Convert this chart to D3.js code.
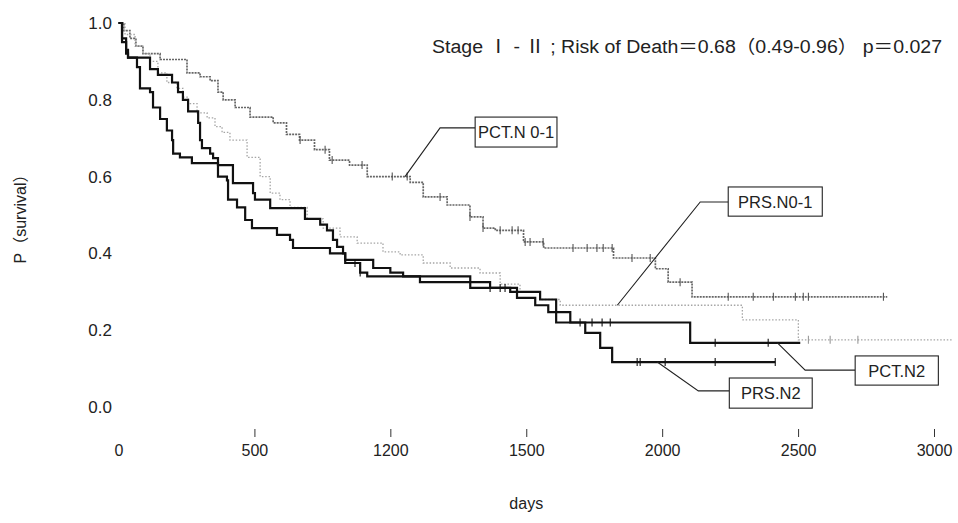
<!DOCTYPE html>
<html>
<head>
<meta charset="utf-8">
<script src="https://cdn.jsdelivr.net/npm/d3@7"></script>
<style>
  html, body { margin: 0; padding: 0; background: #fff; }
  svg { display: block; }
  text { font-family: "Liberation Sans", Arial, "Noto Sans CJK JP", sans-serif; fill: #222; }
</style>
</head>
<body>
<svg id="chart" width="958" height="523"></svg>
<script>
// ---------------- DATA ----------------
const titleText = "Stage  \u2160 - \u2161 ; Risk of Death\uFF1D0.68\uFF080.49-0.96\uFF09 p\uFF1D0.027";
const xTickValues = [0, 500, 1000, 1500, 2000, 2500, 3000];
const xTickLabels = ["0", "500", "1200", "1500", "2000", "2500", "3000"];
const yTickValues = [0, 0.2, 0.4, 0.6, 0.8, 1.0];
const seriesNames = ["PCT.N 0-1", "PRS.N0-1", "PCT.N2", "PRS.N2"];

const pctN01Days = [0, 20, 42, 64, 90, 153, 252, 300, 337, 366, 385, 429, 484, 569, 618, 666, 721, 776, 850, 915, 1073, 1121, 1209, 1293, 1341, 1386, 1490, 1564, 1821, 1975, 2022, 2110, 2828];
const pctN01Surv = [1.0, 0.98, 0.96, 0.94, 0.92, 0.905, 0.87, 0.86, 0.85, 0.82, 0.80, 0.78, 0.755, 0.74, 0.71, 0.695, 0.67, 0.643, 0.63, 0.60, 0.585, 0.547, 0.526, 0.495, 0.466, 0.46, 0.43, 0.414, 0.388, 0.36, 0.325, 0.287, 0.287];
const pctN01Censor = [668, 760, 786, 896, 1007, 1062, 1183, 1293, 1341, 1404, 1448, 1470, 1496, 1514, 1562, 1672, 1724, 1760, 1783, 1816, 1889, 1956, 2066, 2243, 2335, 2409, 2490, 2519, 2538, 2814];

const prsN01Days = [0, 24, 61, 90, 116, 145, 178, 215, 237, 256, 289, 326, 355, 381, 410, 473, 521, 558, 594, 631, 694, 753, 815, 878, 973, 1036, 1121, 1220, 1330, 1404, 1477, 1551, 1625, 2295, 2501, 3067];
const prsN01Surv = [1.0, 0.97, 0.94, 0.92, 0.90, 0.87, 0.845, 0.83, 0.807, 0.79, 0.766, 0.753, 0.73, 0.715, 0.695, 0.65, 0.60, 0.557, 0.54, 0.52, 0.49, 0.466, 0.443, 0.427, 0.404, 0.396, 0.375, 0.362, 0.349, 0.32, 0.30, 0.28, 0.265, 0.227, 0.175, 0.175];
const prsN01Censor = [2538, 2618, 2720];

const pctN2Days = [0, 13, 28, 35, 116, 145, 197, 219, 237, 256, 293, 300, 307, 337, 348, 366, 421, 495, 502, 558, 686, 742, 767, 789, 804, 826, 834, 937, 1000, 1047, 1294, 1466, 1533, 1581, 1662, 2103, 2508];
const pctN2Surv = [1.0, 0.96, 0.93, 0.91, 0.88, 0.865, 0.845, 0.82, 0.80, 0.77, 0.74, 0.695, 0.674, 0.66, 0.648, 0.63, 0.583, 0.557, 0.54, 0.518, 0.49, 0.475, 0.46, 0.435, 0.417, 0.40, 0.383, 0.362, 0.35, 0.34, 0.31, 0.284, 0.265, 0.247, 0.22, 0.167, 0.167];
const pctN2Censor = [1367, 1404, 1422, 1698, 1742, 1779, 1809, 2195, 2390];

const prsN2Days = [0, 13, 28, 35, 68, 79, 116, 127, 153, 178, 197, 201, 226, 270, 366, 399, 403, 436, 466, 491, 583, 631, 642, 778, 834, 889, 915, 1109, 1367, 1441, 1551, 1610, 1717, 1772, 1816, 2416];
const prsN2Surv = [1.0, 0.95, 0.92, 0.91, 0.885, 0.83, 0.82, 0.78, 0.75, 0.72, 0.695, 0.66, 0.65, 0.635, 0.60, 0.59, 0.54, 0.52, 0.487, 0.466, 0.448, 0.435, 0.414, 0.40, 0.375, 0.35, 0.34, 0.325, 0.31, 0.30, 0.28, 0.22, 0.193, 0.154, 0.117, 0.117];
const prsN2Censor = [870, 889, 1908, 1919, 2011, 2195, 2416];

// ---------------- CHART ----------------
const svg = d3.select("#chart");
const x = d3.scaleLinear().domain([0, 3000]).range([118.5, 934]);
const y = d3.scaleLinear().domain([0, 1]).range([407, 23]);

const series = [
  { name: seriesNames[0], days: pctN01Days, surv: pctN01Surv, censor: pctN01Censor, color: "#666", width: 1.7, dash: "2,1", tick: "#555" },
  { name: seriesNames[1], days: prsN01Days, surv: prsN01Surv, censor: prsN01Censor, color: "#a5a5a5", width: 1.3, dash: "1.5,1.8", tick: "#999" },
  { name: seriesNames[2], days: pctN2Days, surv: pctN2Surv, censor: pctN2Censor, color: "#111", width: 2.2, dash: null, tick: "#111" },
  { name: seriesNames[3], days: prsN2Days, surv: prsN2Surv, censor: prsN2Censor, color: "#111", width: 2.2, dash: null, tick: "#111" }
];

function stepValue(s, d) {
  let v = s.surv[0];
  for (let i = 0; i < s.days.length; i++) { if (s.days[i] <= d) v = s.surv[i]; }
  return v;
}

const line = d3.line().x(p => x(p[0])).y(p => y(p[1])).curve(d3.curveStepAfter);

series.forEach(s => {
  const pts = s.days.map((d, i) => [d, s.surv[i]]);
  const path = svg.append("path").attr("d", line(pts))
    .attr("fill", "none").attr("stroke", s.color).attr("stroke-width", s.width);
  if (s.dash) path.attr("stroke-dasharray", s.dash);
  svg.append("g").selectAll("line").data(s.censor).join("line")
    .attr("x1", d => x(d)).attr("x2", d => x(d))
    .attr("y1", d => y(stepValue(s, d)) - 4).attr("y2", d => y(stepValue(s, d)) + 4)
    .attr("stroke", s.tick).attr("stroke-width", 1.1);
});

// X axis
const xAxis = svg.append("g").attr("transform", "translate(0,429)")
  .call(d3.axisBottom(x).tickValues(xTickValues).tickSize(8).tickPadding(8)
    .tickFormat((d, i) => xTickLabels[i]));
xAxis.select(".domain").remove();
xAxis.selectAll(".tick line").attr("stroke", "#333").attr("stroke-width", 1)
  .attr("opacity", d => d === 0 ? 0 : 1);
xAxis.selectAll(".tick text").attr("font-size", 16).attr("fill", "#222")
  .attr("font-family", "Liberation Sans, Arial, sans-serif");

// Y axis
const yAxis = svg.append("g").attr("transform", "translate(112,0)")
  .call(d3.axisLeft(y).tickValues(yTickValues).tickSize(0).tickPadding(0).tickFormat(d3.format(".1f")));
yAxis.select(".domain").remove();
yAxis.selectAll(".tick text").attr("font-size", 17).attr("fill", "#222")
  .attr("font-family", "Liberation Sans, Arial, sans-serif");

// Axis titles
svg.append("text").attr("x", x(1500)).attr("y", 509).attr("text-anchor", "middle")
  .attr("font-size", 16).text("days");
svg.append("text").attr("transform", "translate(26,215) rotate(-90)").attr("text-anchor", "middle")
  .attr("font-size", 16).text("P\uFF08survival\uFF09");

// Title
svg.append("text").attr("x", 432).attr("y", 53)
  .attr("font-size", 18).attr("textLength", 510).attr("lengthAdjust", "spacingAndGlyphs").text(titleText);

// Series labels (positions in data coordinates)
const labels = [
  { text: seriesNames[0], x0: 1312, x1: 1613, yTop: 0.755, yBot: 0.677, yLead: 0.727, xElbow: 1183, sIdx: 0, anchorDay: 1054 },
  { text: seriesNames[1], x0: 2243, x1: 2589, yTop: 0.573, yBot: 0.497, yLead: 0.534, xElbow: 2140, sIdx: 1, anchorDay: 1835 },
  { text: seriesNames[2], x0: 2710, x1: 3016, yTop: 0.133, yBot: 0.057, yLead: 0.096, xElbow: 2526, sIdx: 2, anchorDay: 2424 },
  { text: seriesNames[3], x0: 2247, x1: 2552, yTop: 0.0755, yBot: -0.003, yLead: 0.042, xElbow: 2133, sIdx: 3, anchorDay: 1982 }
];
labels.forEach(l => {
  const ax = x(l.anchorDay), ay = y(stepValue(series[l.sIdx], l.anchorDay));
  svg.append("polyline")
    .attr("points", [[x(l.x0), y(l.yLead)], [x(l.xElbow), y(l.yLead)], [ax, ay]].map(p => p.join(",")).join(" "))
    .attr("fill", "none").attr("stroke", "#222").attr("stroke-width", 1.1);
  svg.append("rect").attr("x", x(l.x0)).attr("y", y(l.yTop))
    .attr("width", x(l.x1) - x(l.x0)).attr("height", y(l.yBot) - y(l.yTop))
    .attr("fill", "#fff").attr("stroke", "#222").attr("stroke-width", 1.1);
  svg.append("text").attr("x", (x(l.x0) + x(l.x1)) / 2).attr("y", (y(l.yTop) + y(l.yBot)) / 2 + 6)
    .attr("text-anchor", "middle").attr("font-size", 16.5).text(l.text);
});
</script>
</body>
</html>
